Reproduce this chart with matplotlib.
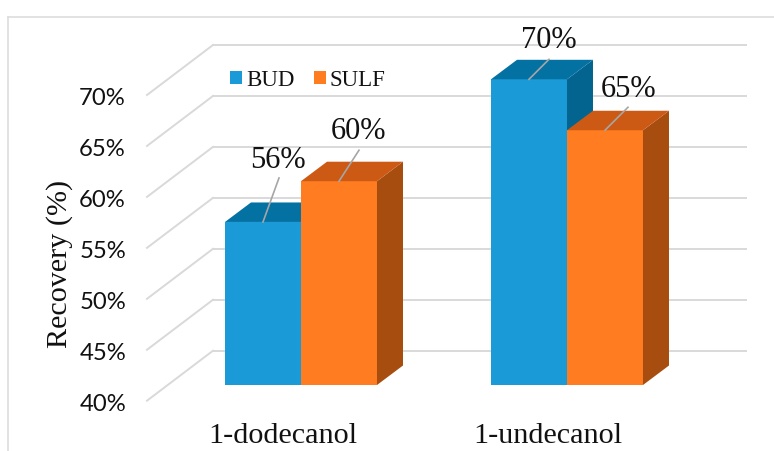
import matplotlib
matplotlib.use("Agg")
import matplotlib.pyplot as plt
from matplotlib.patches import Polygon, Patch
from matplotlib.lines import Line2D
from matplotlib.transforms import Affine2D

categories = ["1-dodecanol", "1-undecanol"]
bud = [56, 70]
sulf = [60, 65]
ticks = [40, 45, 50, 55, 60, 65, 70]
series_names = ["BUD", "SULF"]

W, H = 774, 451
fig = plt.figure(figsize=(W / 100, H / 100), dpi=100)
ax = fig.add_axes([168 / W, (H - 385) / H, 533 / W, 305.7 / H])
ax.set_xlim(-0.5, 1.5038)
ax.set_ylim(40, 70)
ax.axis("off")

SERIF = "Liberation Serif"
SANS = "Lato"
GRID = "#D9D9D9"
BAR_W = 76 / 266
BDX, BDY = 26, 19.5
colors = [("#1A9BD7", "#0471A3", "#03658F"), ("#FF7C20", "#CC5A14", "#A84D10")]

T = ax.transData
back = T + Affine2D().translate(45, 34.3)
front = T + Affine2D().translate(-21, -15.7)
x0, x1 = ax.get_xlim()

# Outer chart frame
for xs, ys in [((7.5, W), (H - 16.5, H - 16.5)), ((7.5, 7.5), (H - 16.5, 0))]:
    fig.add_artist(Line2D([x / W for x in xs], [y / H for y in ys], color="#DDDDDD", lw=1.2))

# Gridlines: horizontal on the back wall + diagonal on the side wall
for t in ticks:
    ax.plot([x0, x1], [t, t], transform=back, color=GRID, lw=1.4, clip_on=False, zorder=1)
    pf = front.transform((x0, t))
    pb = back.transform((x0, t))
    ax.add_line(Line2D([pf[0], pb[0]], [pf[1], pb[1]], transform=Affine2D(), color=GRID, lw=1.4, clip_on=False, zorder=1))
    ax.text(x0, t, f"{t}%", transform=front + Affine2D().translate(-21, -3.5), ha="right", va="center",
            family=SANS, fontsize=17.2, color="#111111", clip_on=False)


def bar3d(xc, v, cols):
    l, r = xc - BAR_W / 2, xc + BAR_W / 2
    ax.add_patch(Polygon([(l, 40), (r, 40), (r, v), (l, v)], closed=True, fc=cols[0], ec="none", zorder=3, clip_on=False))
    rp = [T.transform(p) for p in [(r, 40), (r, v)]]
    lp = T.transform((l, v))
    ax.add_patch(Polygon([rp[0], rp[1], (rp[1][0] + BDX, rp[1][1] + BDY), (rp[0][0] + BDX, rp[0][1] + BDY)],
                         closed=True, transform=Affine2D(), fc=cols[2], ec="none", zorder=3, clip_on=False))
    ax.add_patch(Polygon([lp, rp[1], (rp[1][0] + BDX, rp[1][1] + BDY), (lp[0] + BDX, lp[1] + BDY)],
                         closed=True, transform=Affine2D(), fc=cols[1], ec="none", zorder=3, clip_on=False))


# Label offsets in pixels from the bar's top-centre: (line end, text centre/baseline)
bud_offsets = [((16, 44), (15, 54)), ((20, 20), (20, 31))]
sulf_offsets = [((20, 31), (20, 42)), ((23, 23), (24, 33))]

for i, (b, s) in enumerate(zip(bud, sulf)):
    for xc, v, cols, off in [(i - BAR_W / 2, b, colors[0], bud_offsets[i]),
                             (i + BAR_W / 2, s, colors[1], sulf_offsets[i])]:
        bar3d(xc, v, cols)
        p = T.transform((xc, v))
        ax.add_line(Line2D([p[0], p[0] + off[0][0]], [p[1], p[1] + off[0][1]], transform=Affine2D(),
                           color="#A6A6A6", lw=1.2, zorder=4, clip_on=False))
        ax.annotate(f"{v}%", xy=(xc, v), xytext=(off[1][0] * 0.72, off[1][1] * 0.72), textcoords="offset points",
                    ha="center", va="baseline", family=SERIF, fontsize=22, color="#111111", zorder=5,
                    annotation_clip=False)

for i, c in enumerate(categories):
    ax.text(i - 0.07, 40, c, transform=T + Affine2D().translate(0, -51), ha="center",
            va="center", family=SERIF, fontsize=21.7, color="#111111", clip_on=False)

fig.text(60 / W, (H - 263.5) / H, "Recovery (%)", rotation=90, ha="center", va="center",
         family=SERIF, fontsize=21.7, color="#111111")

handles = [Patch(fc=colors[0][0], ec="none"), Patch(fc=colors[1][0], ec="none")]
fig.legend(handles, series_names, loc="center left", bbox_to_anchor=(230 / W, (H - 80) / H), frameon=False, ncol=2,
           prop={"family": SERIF, "size": 16.5}, handlelength=0.52, handleheight=0.52, handletextpad=0.17,
           columnspacing=0.87, borderpad=0, borderaxespad=0, labelcolor="#111111")

fig.savefig("out.png", dpi=100)
